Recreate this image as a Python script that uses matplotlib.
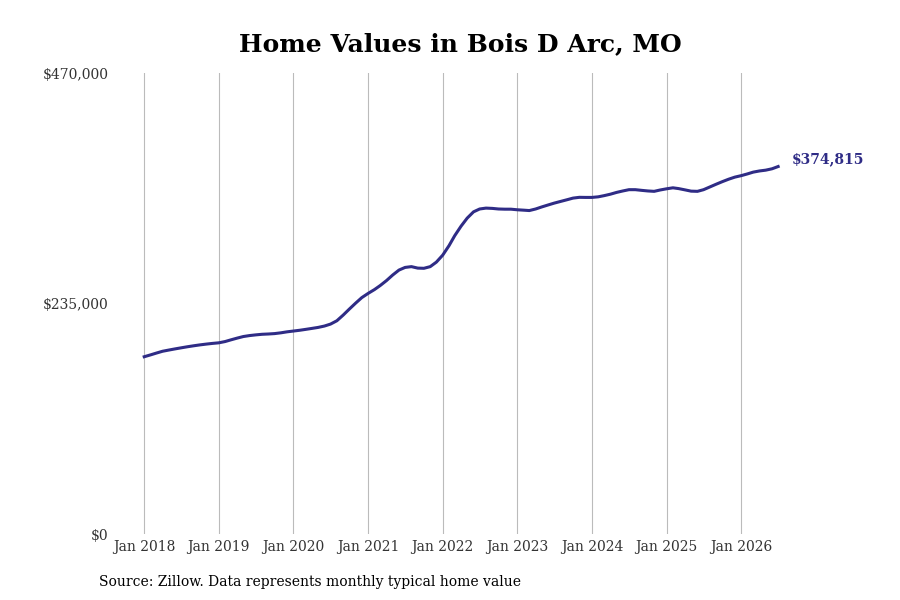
import pandas as pd
import matplotlib.pyplot as plt
import matplotlib.dates as mdates
from matplotlib.ticker import FuncFormatter

# monthly typical home value, Jan 2018 - Jul 2026
values = [
    180800, 182700, 184500, 186400, 187600, 188800, 189900, 191000, 192000, 192900, 193700, 194400,
    195000, 196300, 198000, 199800, 201400, 202400, 203100, 203700, 204000, 204400, 205200, 206200,
    207000, 207800, 208700, 209700, 210700, 212100, 214100, 217500, 223300, 229400, 235500, 241100,
    245400, 249300, 253400, 258500, 264100, 269200, 271900, 272700, 271200, 271000, 272700, 277300,
    284400, 294100, 304300, 314000, 322200, 328600, 331500, 332400, 332100, 331500, 331300, 331300,
    330700, 330300, 329900, 331500, 333600, 335600, 337500, 339200, 340900, 342600, 343400, 343300,
    343300, 343900, 345100, 346600, 348400, 349900, 351200, 351200, 350500, 349900, 349500, 350900,
    352100, 353100, 352300, 351000, 349700, 349500, 351200, 354000, 356800, 359400, 361900, 364000,
    365500, 367300, 369100, 370300, 371100, 372500, 374815,
]
dates = pd.date_range("2018-01-01", periods=len(values), freq="MS")
tick_years = list(range(2018, 2027))
y_ticks = [0, 235000, 470000]

line_color = "#2f2c86"
plt.rcParams["font.family"] = "DejaVu Serif"

fig = plt.figure(figsize=(9, 6), dpi=100)
ax = fig.add_axes([0.128, 0.11, 0.75, 0.768])

ax.plot(dates, values, color=line_color, lw=2.2)

ax.set_ylim(0, 470000)
ax.set_yticks(y_ticks)
ax.yaxis.set_major_formatter(FuncFormatter(lambda v, p: f"${v:,.0f}"))
ax.set_xlim(pd.Timestamp("2017-08-12"), pd.Timestamp("2026-08-29"))
ax.set_xticks([pd.Timestamp(f"{y}-01-01") for y in tick_years])
ax.xaxis.set_major_formatter(mdates.DateFormatter("Jan %Y"))

ax.grid(axis="x", color="#bbbbbb", lw=0.8)
ax.grid(axis="y", visible=False)
for s in ax.spines.values():
    s.set_visible(False)
ax.tick_params(length=0, labelsize=10, colors="#333333")
ax.tick_params(axis="y", pad=5)
ax.tick_params(axis="x", pad=4)

ax.annotate(f"${values[-1]:,}", (dates[-1], values[-1]), xytext=(10, 5),
            textcoords="offset points", color=line_color, fontsize=10,
            fontweight="bold", va="center", ha="left")

fig.text(0.512, 0.927, "Home Values in Bois D Arc, MO", ha="center", va="center",
         fontsize=18, fontweight="bold")
fig.text(99 / 900, 1 - 582 / 600, "Source: Zillow. Data represents monthly typical home value",
         ha="left", va="center", fontsize=10)

fig.savefig("out.png", dpi=100)
